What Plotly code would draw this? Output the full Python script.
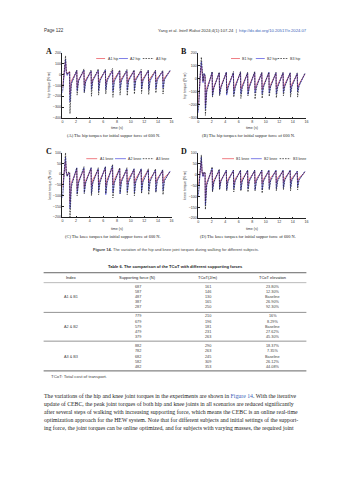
import plotly.graph_objects as go

W, H = 353, 480
def px(x): return x / W
def py(y): return 1 - y / H

# ---------------- data: joint torques (vertices) ----------------
t_A = [0, 0.1, 0.3, 0.45, 0.55, 0.7, 0.9,
       1.05, 1.1, 1.3, 2.1, 2.15, 2.35, 3.15, 3.2, 3.4, 4.2, 4.25, 4.45,
       5.25, 5.3, 5.5, 6.3, 6.35, 6.55, 7.35, 7.4, 7.6, 8.4, 8.45, 8.65,
       9.45, 9.5, 9.7, 10.5, 10.55, 10.75, 11.55, 11.6, 11.8, 12.6, 12.65, 12.85,
       13.65, 13.7, 13.9, 14.7, 14.75, 14.95, 15.8]
t_B = [0, 0.1, 0.3, 0.45, 0.55, 0.7, 0.85,
       1.0, 1.05, 1.25, 2.05, 2.1, 2.3, 3.1, 3.15, 3.35, 4.15, 4.2, 4.4,
       5.2, 5.25, 5.45, 6.25, 6.3, 6.5, 7.3, 7.35, 7.55, 8.35, 8.4, 8.6,
       9.4, 9.45, 9.65, 10.45, 10.5, 10.7, 11.5, 11.55, 11.75, 12.55, 12.6, 12.8,
       13.6, 13.65, 13.85, 14.65, 14.7, 14.9, 15.8]

hip_A1 = [-120, -60, 40, 120, 30, 0, 20,
          25, -180, -60, 30, -120, -50, 30, -100, -50, 25, -90, -45,
          30, -80, -40, 30, -90, -45, 35, -80, -40, 30, -75, -40,
          30, -80, -40, 30, -70, -35, 30, -75, -40, 30, -70, -35,
          30, -70, -35, 25, -65, -30, 30]
hip_A2 = [-170, -90, 50, 140, 20, -10, 15,
          20, -250, -80, 35, -150, -60, 40, -160, -70, 30, -140, -60,
          35, -150, -60, 40, -140, -60, 35, -155, -65, 30, -130, -60,
          35, -145, -60, 35, -140, -55, 30, -135, -60, 35, -140, -60,
          30, -130, -55, 30, -125, -50, 35]
hip_A3 = [-150, -80, 60, 170, 40, 0, 20,
          20, -360, -90, 40, -190, -60, 50, -170, -60, 40, -200, -50,
          50, -190, -55, 45, -180, -50, 55, -210, -55, 40, -190, -50,
          45, -195, -55, 40, -180, -50, 45, -175, -50, 40, -185, -50,
          40, -170, -45, 35, -180, -45, 40]

hip_B1 = [-200, -100, 30, 100, 20, -20, 30,
          20, -200, -70, 40, -110, -60, 40, -100, -55, 45, -90, -50,
          40, -85, -50, 45, -80, -50, 40, -85, -50, 45, -80, -45,
          40, -80, -45, 40, -75, -45, 40, -80, -45, 40, -75, -40,
          40, -70, -40, 35, -70, -40, 35]
hip_B2 = [-260, -120, 40, 130, 30, -30, 40,
          20, -230, -90, 50, -130, -70, 45, -120, -65, 50, -125, -70,
          45, -120, -65, 50, -115, -65, 45, -120, -65, 50, -110, -60,
          45, -115, -60, 50, -110, -60, 45, -115, -60, 45, -105, -55,
          45, -110, -55, 40, -100, -55, 40]
hip_B3 = [-240, -110, 50, 165, 40, -20, 40,
          30, -280, -100, 55, -140, -70, 50, -130, -70, 50, -115, -65,
          55, -140, -70, 55, -150, -70, 50, -130, -65, 55, -155, -70,
          50, -150, -65, 50, -135, -60, 50, -145, -65, 50, -130, -60,
          45, -140, -60, 45, -140, -55, 45]

knee_A1 = [-60, -30, 20, 60, 10, -5, 5,
           5, -130, -40, 20, -70, -30, 20, -60, -30, 25, -55, -25,
           20, -50, -25, 25, -55, -25, 30, -50, -25, 25, -50, -25,
           20, -45, -20, 20, -45, -20, 20, -45, -20, 20, -40, -20,
           15, -40, -20, 15, -40, -15, 10]
knee_A2 = [-110, -50, 30, 80, 10, -10, 5,
           5, -160, -50, 30, -90, -40, 30, -85, -40, 30, -90, -40,
           25, -80, -35, 35, -95, -40, 40, -85, -40, 25, -90, -35,
           25, -80, -35, 25, -85, -35, 25, -80, -35, 20, -75, -30,
           20, -80, -30, 20, -75, -30, 15]
knee_A3 = [-100, -40, 30, 100, 15, -10, 10,
           10, -205, -60, 30, -100, -40, 35, -90, -40, 30, -100, -40,
           30, -95, -40, 35, -90, -35, 45, -110, -40, 30, -90, -35,
           30, -95, -35, 25, -100, -35, 25, -90, -35, 25, -95, -35,
           25, -85, -30, 20, -95, -30, 15]

knee_B1 = [-50, -30, 20, 60, 10, -5, 10,
           5, -120, -35, 20, -55, -25, 15, -50, -25, 15, -45, -20,
           15, -45, -20, 15, -40, -20, 15, -45, -20, 15, -40, -20,
           15, -40, -20, 15, -40, -15, 15, -40, -15, 15, -35, -15,
           15, -35, -15, 10, -35, -15, 10]
knee_B2 = [-100, -50, 30, 80, 15, -10, 10,
           5, -140, -45, 30, -75, -35, 20, -65, -30, 20, -70, -30,
           20, -65, -30, 20, -70, -30, 20, -65, -30, 20, -70, -30,
           20, -70, -30, 20, -65, -25, 20, -65, -25, 20, -60, -25,
           20, -60, -25, 15, -55, -25, 15]
knee_B3 = [-90, -40, 30, 90, 15, -5, 10,
           10, -160, -50, 35, -80, -35, 25, -70, -30, 20, -75, -30,
           20, -80, -30, 20, -75, -30, 20, -80, -30, 20, -75, -30,
           20, -85, -30, 20, -70, -30, 20, -75, -30, 20, -70, -25,
           20, -75, -25, 15, -70, -25, 15]

x_ticks = [0, 2, 4, 6, 8, 10, 12, 14, 16]

# ---------------- data: table 6 ----------------
group_labels = ["A1 & B1", "A2 & B2", "A3 & B3"]
supporting_force = [[687, 587, 487, 387, 287],
                    [779, 679, 579, 479, 379],
                    [882, 782, 682, 582, 482]]
tcot = [[161, 146, 130, 165, 250],
        [210, 196, 181, 231, 263],
        [290, 263, 245, 309, 353]]
tcot_elev = [["23.80%", "12.30%", "Baseline", "26.90%", "92.30%"],
             ["16%", "8.29%", "Baseline", "27.62%", "45.30%"],
             ["18.37%", "7.35%", "Baseline", "26.12%", "44.08%"]]
table_header = ["Index", "Supporting force (N)", "TCoT(J/m)", "TCoT elevation"]

# ---------------- figure ----------------
colors = ["#e8464f", "#4848dc", "#1a1a1a"]
dashes = ["solid", "solid", "1.6px,1.1px"]
SANS = "Liberation Sans"
SERIF = "Liberation Serif"

panels = [
    dict(letter="A", t=t_A, ys=[hip_A1, hip_A2, hip_A3], xd=(62, 172), yd=(51, 117),
         yr=(-400, 200), dt=100, ytitle="hip torque (N·m)",
         labels=["A1 hip", "A2 hip", "A3 hip"], leg=[(96, 105), (119, 128), (143, 154)], legy=57,
         cap="(A) The hip torques for initial suppor force of 600 N.", capy=135, tty=127.5),
    dict(letter="B", t=t_B, ys=[hip_B1, hip_B2, hip_B3], xd=(199, 308), yd=(51, 117),
         yr=(-300, 200), dt=100, ytitle="hip torque (N·m)",
         labels=["B1 hip", "B2 hip", "B3 hip"], leg=[(232, 241), (257, 266), (279, 289)], legy=57,
         cap="(B) The hip torques for initial suppor force of 600 N.", capy=135, tty=127.5),
    dict(letter="C", t=t_A, ys=[knee_A1, knee_A2, knee_A3], xd=(62, 172), yd=(152, 217),
         yr=(-200, 100), dt=50, ytitle="knee torque (N·m)",
         labels=["A1 knee", "A2 knee", "A3 knee"], leg=[(86, 97), (115, 126), (143, 154)], legy=158,
         cap="(C) The knee torques for initial suppor force of 600 N.", capy=236, tty=229),
    dict(letter="D", t=t_B, ys=[knee_B1, knee_B2, knee_B3], xd=(199, 308), yd=(152, 218),
         yr=(-200, 100), dt=50, ytitle="knee torque (N·m)",
         labels=["B1 knee", "B2 knee", "B3 knee"], leg=[(223, 235), (252, 263), (281, 292)], legy=158,
         cap="(D) The knee torques for initial suppor force of 600 N.", capy=236, tty=229),
]

fig = go.Figure()
annotations = []
shapes = []
layout_axes = {}

def note(x, y, text, size, family=SANS, color="#333", xanchor="center", **kw):
    d = dict(xref="paper", yref="paper", x=px(x), y=py(y), text=text, showarrow=False,
             xanchor=xanchor, yanchor="middle", borderpad=0,
             font=dict(family=family, size=size, color=color))
    d.update(kw)
    annotations.append(d)

for i, p in enumerate(panels):
    n = "" if i == 0 else str(i + 1)
    for k in range(3):
        fig.add_trace(go.Scatter(x=p["t"], y=p["ys"][k], mode="lines", name=p["labels"][k],
                                 xaxis="x" + n, yaxis="y" + n, showlegend=False,
                                 line=dict(color=colors[k], width=0.7, dash=dashes[k])))
    axcommon = dict(showline=True, linecolor="#222", linewidth=0.6, mirror=False,
                    ticks="inside", ticklen=1.5, tickwidth=0.5, tickcolor="#222",
                    showgrid=False, zeroline=False,
                    tickfont=dict(family=SANS, size=3.6, color="#333"))
    layout_axes["xaxis" + n] = dict(axcommon, domain=[px(p["xd"][0]), px(p["xd"][1])],
                                    range=[0, 16], tickvals=x_ticks, anchor="y" + n)
    layout_axes["yaxis" + n] = dict(axcommon, domain=[py(p["yd"][1]), py(p["yd"][0])],
                                    range=list(p["yr"]), dtick=p["dt"], anchor="x" + n)
    xc = (p["xd"][0] + p["xd"][1]) / 2
    note(p["xd"][0] - 14, p["yd"][0] - 1, "<b>%s</b>" % p["letter"], 8, family=SERIF, color="#111")
    note(p["xd"][0] - 13, (p["yd"][0] + p["yd"][1]) / 2, p["ytitle"], 3.6, textangle=-90)
    note(xc, p["tty"], "time (s)", 3.6)
    note(xc - 4, p["capy"], p["cap"], 4.4, family=SERIF, color="#222")
    for k in range(3):
        x0, x1 = p["leg"][k]
        shapes.append(dict(type="line", xref="paper", yref="paper", x0=px(x0), x1=px(x1),
                           y0=py(p["legy"]), y1=py(p["legy"]),
                           line=dict(color=colors[k], width=0.7, dash=dashes[k])))
        note(x1 + 1.5, p["legy"], p["labels"][k], 3.6, xanchor="left")

# header
note(42, 29, "Page 122", 4.5, xanchor="left")
note(310, 29, "Yang et al. <i>Intell Robot</i> 2024;4(1):107-24  |  "
              "<span style='color:#3a5fb8'>http://dx.doi.org/10.20517/ir.2024.07</span>",
     4.2, xanchor="right")

# figure caption
note(176, 249.5, "<b>Figure 14.</b> The variation of the hip and knee joint torques during walking for different subjects.",
     4.0, color="#444")

# table
note(176, 267, "<b>Table 6. The comparison of the TCoT with different supporting forces</b>", 4.1, color="#222")
col_x = [71, 138, 209, 274]
for c, h in enumerate(table_header):
    note(col_x[c], 278, h, 4.0, color="#222")
for g in range(3):
    y0 = 287 + 30 * g
    note(col_x[0], y0 + 10.5, group_labels[g], 3.8, color="#444")
    for r in range(5):
        vals = [str(supporting_force[g][r]), str(tcot[g][r]), tcot_elev[g][r]]
        for c in range(3):
            note(col_x[c + 1], y0 + 5.25 * r, vals[c], 3.8, color="#444")
for yl, w, col in [(273, 0.9, "#555"), (283, 0.5, "#777"), (313, 0.7, "#666"), (342, 0.7, "#666"), (372, 0.9, "#555")]:
    shapes.append(dict(type="line", xref="paper", yref="paper", x0=px(43), x1=px(308),
                       y0=py(yl), y1=py(yl), line=dict(color=col, width=w)))
note(49, 377.5, "TCoT: Total cost of transport.", 4.4, color="#444", xanchor="left")

# body text
body = [
    "The variations of the hip and knee joint torques in the experiments are shown in <span style='color:#3a5fb8'>Figure 14</span>. With the iterative",
    "update of CEBC, the peak joint torques of both hip and knee joints in all scenarios are reduced significantly",
    "after several steps of walking with increasing supporting force, which means the CEBC is an online real-time",
    "optimization approach for the HEW system. Note that for different subjects and initial settings of the support-",
    "ing force, the joint torques can be online optimized, and for subjects with varying masses, the required joint",
]
for j, line in enumerate(body):
    note(42, 397 + 8.05 * j, line, 5.8, family=SERIF, color="#222", xanchor="left")

fig.update_layout(width=W, height=H, autosize=False, margin=dict(l=0, r=0, t=0, b=0, pad=0),
                  paper_bgcolor="white", plot_bgcolor="white", showlegend=False,
                  annotations=annotations, shapes=shapes, **layout_axes)
fig.write_html("out.html")
